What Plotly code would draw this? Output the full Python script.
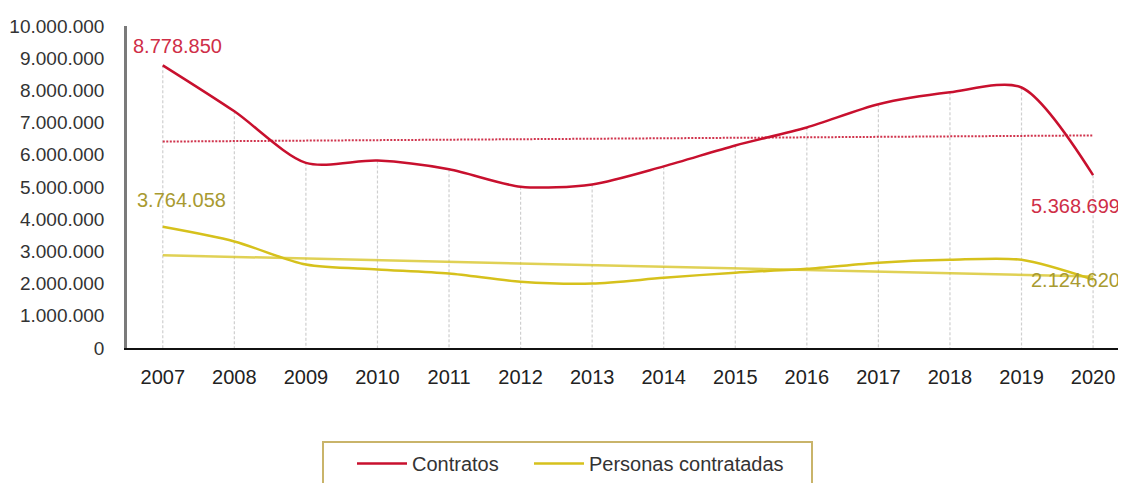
import numpy as np
import plotly.graph_objects as go

years = [2007, 2008, 2009, 2010, 2011, 2012, 2013, 2014, 2015, 2016, 2017, 2018, 2019, 2020]
contratos = [8778850, 7350000, 5750000, 5820000, 5550000, 5010000, 5080000, 5640000,
             6290000, 6850000, 7570000, 7940000, 8090000, 5368699]
personas = [3764058, 3310000, 2590000, 2440000, 2310000, 2060000, 2000000, 2180000,
            2340000, 2460000, 2650000, 2740000, 2740000, 2124620]
tick_vals = [0, 1000000, 2000000, 3000000, 4000000, 5000000, 6000000, 7000000,
             8000000, 9000000, 10000000]

RED = "#C8102E"
RED_LBL = "#CF2E47"
YEL = "#D6C11C"
YEL_LBL = "#A89A30"
FONT = "Liberation Sans, Arial, Helvetica, sans-serif"


def fmt(v):
    return f"{v:,}".replace(",", ".")


xs = np.array(years, dtype=float)
tr_c = np.polyval(np.polyfit(xs, contratos, 1), xs)
tr_p = np.polyval(np.polyfit(xs, personas, 1), xs)

# drop lines from each Contratos point down to the axis
drop_x, drop_y = [], []
for x, y in zip(years, contratos):
    drop_x += [x, x, None]
    drop_y += [y, 0, None]

fig = go.Figure()
fig.add_trace(go.Scatter(x=drop_x, y=drop_y, mode="lines", showlegend=False, hoverinfo="skip",
                         line=dict(color="#CFCFCF", width=1.2, dash="3px,2px")))
fig.add_trace(go.Scatter(x=years, y=tr_c, mode="lines", showlegend=False,
                         line=dict(color="rgba(200,16,46,0.85)", width=2, dash="2px,1.5px")))
fig.add_trace(go.Scatter(x=years, y=tr_p, mode="lines", showlegend=False,
                         line=dict(color="rgba(214,193,28,0.75)", width=2.5)))
fig.add_trace(go.Scatter(x=years, y=contratos, mode="lines", name="Contratos", legend="legend",
                         line=dict(color=RED, width=2.5, shape="spline", smoothing=0.8)))
fig.add_trace(go.Scatter(x=years, y=personas, mode="lines", name="Personas contratadas",
                         legend="legend2",
                         line=dict(color=YEL, width=2.5, shape="spline", smoothing=0.8)))

ann = [
    (years[0], contratos[0], 15, 19, RED_LBL),
    (years[-1], contratos[-1], -18, -31, RED_LBL),
    (years[0], personas[0], 19, 27, YEL_LBL),
    (years[-1], personas[-1], -18, 0, YEL_LBL),
]
for x, y, dx, dy, c in ann:
    fig.add_annotation(x=x, y=y, text=fmt(y), showarrow=False, xshift=dx, yshift=dy,
                       font=dict(size=20, color=c, family=FONT))

# page body has an 8px margin; plot area spans x 127..1126, y 26..351 in the window
PW, PH = 999, 325


def px(x):
    return (x - 127) / PW


def py(y):
    return (351 - y) / PH


fig.add_shape(type="rect", xref="paper", yref="paper",
              x0=px(323), x1=px(812), y0=py(490), y1=py(446),
              line=dict(color="#C9B46A", width=2), fillcolor="rgba(0,0,0,0)")

leg = dict(orientation="h", xanchor="left", y=py(448), yanchor="top", itemwidth=50,
           font=dict(size=20, color="#333333"), bgcolor="rgba(0,0,0,0)")

fig.update_layout(
    width=1118, height=475,
    margin=dict(l=119, r=0, t=18, b=132),
    paper_bgcolor="white", plot_bgcolor="white",
    font=dict(family=FONT, size=19, color="#333333"),
    separators=",.",
    showlegend=True,
    legend=dict(leg, x=px(352)),
    legend2=dict(leg, x=px(529)),
    xaxis=dict(range=[2006.5, 2020.46], tickmode="array", tickvals=years,
               ticktext=[str(y) for y in years], showgrid=False, zeroline=False,
               showline=True, linecolor="#111111", linewidth=2,
               ticks="outside", ticklen=10, tickcolor="rgba(0,0,0,0)",
               tickfont=dict(size=20, color="#222222")),
    yaxis=dict(range=[0, 10000000], tickmode="array", tickvals=tick_vals,
               ticktext=[fmt(v) for v in tick_vals], showgrid=False, zeroline=False,
               showline=True, linecolor="#7a7a7a", linewidth=2.5,
               ticks="outside", ticklen=16, tickcolor="rgba(0,0,0,0)",
               tickfont=dict(size=19, color="#333333")),
)

fig.write_html("out.html")
